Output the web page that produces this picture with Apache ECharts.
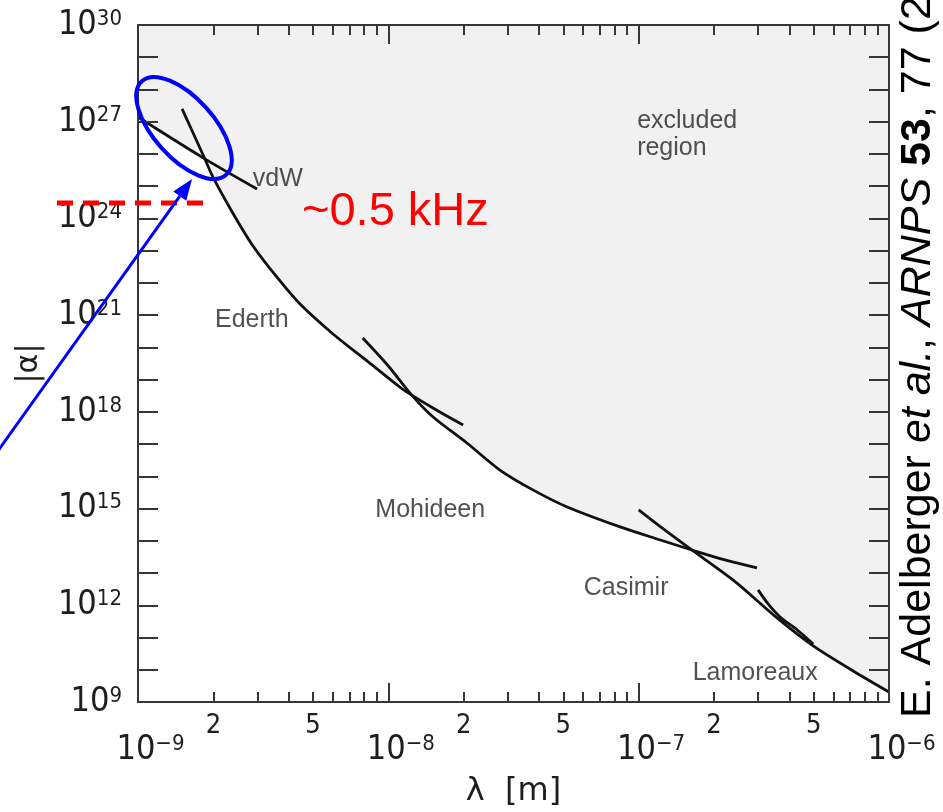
<!DOCTYPE html>
<html>
<head>
<meta charset="utf-8">
<script src="https://cdn.jsdelivr.net/npm/echarts@6/dist/echarts.min.js"></script>
<style>
  html, body { margin: 0; padding: 0; background: #fff; }
  #chart { width: 943px; height: 812px; }
</style>
</head>
<body>
<div id="chart"></div>
<script>
// Limits on the Yukawa strength |alpha| versus range lambda (metres).
// Each constraint curve: wavelengths (m) and |alpha| values.
const vdwLambda = [1.0e-9, 1.80e-9, 2.99e-9];
const vdwAlpha  = [1.4e27, 8.0e25, 8.2e24];

const ederthLambda = [1.50e-9, 1.82e-9, 2.00e-9, 2.40e-9, 2.88e-9, 3.59e-9, 4.44e-9, 6.01e-9, 8.22e-9, 1.11e-8, 1.24e-8, 1.58e-8, 1.99e-8];
const ederthAlpha  = [2.5e27, 9.3e25, 1.8e25, 1.4e24, 1.4e23, 1.5e22, 2.2e21, 2.6e20, 3.8e19, 5.9e18, 3.3e18, 1.06e18, 3.9e17];

const mohideenLambda = [7.9e-9, 1.0e-8, 1.24e-8, 1.51e-8, 2.06e-8, 2.79e-8, 3.78e-8, 5.18e-8, 8.43e-8, 1.22e-7, 1.63e-7, 2.21e-7, 2.97e-7];
const mohideenAlpha  = [1.95e20, 2.65e19, 3.3e18, 6.9e17, 1.08e17, 1.57e16, 3.8e15, 1.12e15, 2.7e14, 1.06e14, 5.2e13, 2.55e13, 1.44e13];

const casimirLambda = [1.0e-7, 1.27e-7, 1.63e-7, 2.38e-7, 3.57e-7, 4.98e-7, 7.19e-7, 1.0e-6];
const casimirAlpha  = [9.1e14, 2.17e14, 5.2e13, 6.1e12, 4.05e11, 5.5e10, 9.2e9, 2.05e9];

const lamoreauxLambda = [3.0e-7, 3.29e-7, 3.67e-7, 4.30e-7, 4.98e-7];
const lamoreauxAlpha  = [3.0e12, 1.1e12, 4.35e11, 1.71e11, 6.3e10];

// In-plot annotations (anchor position in data units)
const noteText   = ['excluded\nregion', 'vdW', 'Ederth', 'Mohideen', 'Casimir', 'Lamoreaux'];
const noteLambda = [9.86e-8, 3.62e-9, 2.85e-9, 1.47e-8, 8.91e-8, 2.92e-7];
const noteAlpha  = [3.9e26, 1.67e25, 7.1e20, 9.1e14, 3.44e12, 7.96e9];

// Axis ranges and tick layout
const lambdaRange = [1e-9, 1e-6];
const alphaRange = [1e9, 1e30];
const xDecadeExponents = [-9, -8, -7, -6];
const xMinorMultipliers = [2, 3, 4, 5, 6, 7, 8, 9];
const xMinorLabelMultipliers = [2, 5];
const yTickExponents = [10, 11, 12, 13, 14, 15, 16, 17, 18, 19, 20, 21, 22, 23, 24, 25, 26, 27, 28, 29];
const yLabelExponents = [9, 12, 15, 18, 21, 24, 27, 30];

const pow10 = e => Number(('1e' + e));
const xDecades = xDecadeExponents.map(pow10);
const xMinorTicks = [];
const xMinorLabels = [];
xDecadeExponents.slice(0, -1).forEach(e => {
  xMinorMultipliers.forEach(m => xMinorTicks.push(Number(m + 'e' + e)));
  xMinorLabelMultipliers.forEach(m => xMinorLabels.push(Number(m + 'e' + e)));
});
const yTicks = yTickExponents.map(pow10);
// The end labels are pulled a hair inside the range so the log round-off of
// the axis extent does not drop them.
const yLabels = yLabelExponents.map((e, i, arr) => {
  const v = pow10(e);
  if (i === 0) return v * (1 + 1e-9);
  if (i === arr.length - 1) return v * (1 - 1e-9);
  return v;
});

const FONT_NUM = '"Liberation Sans Narrow", "DejaVu Sans Condensed", "Liberation Sans", sans-serif';
const FONT_TEXT = '"Liberation Sans", Arial, sans-serif';
const AXIS_COLOR = '#363636';
const axisLine = { show: true, lineStyle: { color: AXIS_COLOR, width: 2 } };
const tickStyle = { color: AXIS_COLOR, width: 2 };
const expOf = v => Math.round(Math.log10(v));

function xAxisDef(position, major, withLabels) {
  const ax = {
    type: 'log', logBase: 10, gridIndex: 0, position: position,
    min: lambdaRange[0], max: lambdaRange[1], z: 10,
    axisLine: major ? axisLine : { show: false },
    axisTick: { show: true, inside: true, length: major ? 19 : 10, lineStyle: tickStyle,
                customValues: major ? xDecades : xMinorTicks },
    splitLine: { show: false }, minorTick: { show: false },
    axisLabel: { show: false }
  };
  if (withLabels && major) {
    ax.axisLabel = {
      show: true, margin: 31, customValues: xDecades,
      formatter: v => '{p| }{b|10}{s|\u2212' + (-expOf(v)) + '}',
      rich: {
        p: { width: 25, fontSize: 10 },
        b: { fontSize: 34, fontFamily: FONT_NUM, color: '#1e1e1e' },
        s: { fontSize: 22, fontFamily: FONT_NUM, color: '#1e1e1e', verticalAlign: 'top' }
      }
    };
    ax.name = '\u03bb  [m]';
    ax.nameLocation = 'middle';
    ax.nameGap = 74;
    ax.nameTextStyle = { fontSize: 32, fontFamily: '"DejaVu Sans", sans-serif', color: '#1e1e1e' };
  } else if (withLabels) {
    ax.axisLabel = {
      show: true, margin: 10, customValues: xMinorLabels,
      formatter: v => String(Math.round(v / pow10(Math.floor(Math.log10(v) + 1e-9)))),
      fontSize: 27, fontFamily: FONT_NUM, color: '#1e1e1e'
    };
  }
  return ax;
}

function yAxisDef(position, withLabels) {
  const ax = {
    type: 'log', logBase: 10, gridIndex: 0, position: position,
    min: alphaRange[0], max: alphaRange[1], z: 10,
    axisLine: axisLine,
    axisTick: { show: true, inside: true, length: 20, lineStyle: tickStyle, customValues: yTicks },
    splitLine: { show: false }, minorTick: { show: false },
    axisLabel: { show: false }
  };
  if (withLabels) {
    ax.axisLabel = {
      show: true, margin: 16, customValues: yLabels,
      formatter: v => '{b|10}{s|' + expOf(v) + '}',
      rich: {
        b: { fontSize: 34, fontFamily: FONT_NUM, color: '#1e1e1e' },
        s: { fontSize: 22, fontFamily: FONT_NUM, color: '#1e1e1e', verticalAlign: 'top' }
      }
    };
    ax.name = '|\u03b1|';
    ax.nameLocation = 'middle';
    ax.nameGap = 94;
    ax.nameTextStyle = { fontSize: 30, fontFamily: '"DejaVu Sans", sans-serif', color: '#1e1e1e' };
  }
  return ax;
}

const curves = [
  ['vdW', vdwLambda, vdwAlpha],
  ['Ederth', ederthLambda, ederthAlpha],
  ['Mohideen', mohideenLambda, mohideenAlpha],
  ['Casimir', casimirLambda, casimirAlpha],
  ['Lamoreaux', lamoreauxLambda, lamoreauxAlpha]
];
const pairs = (xs, ys) => xs.map((x, i) => [x, ys[i]]);

// Shaded excluded region: the union of the areas above every constraint curve
const fillSeries = curves.map(([name, xs, ys]) => ({
  name: name + ' region', type: 'line', data: pairs(xs, ys),
  smooth: 0.3, showSymbol: false, silent: true, z: 1,
  lineStyle: { width: 0, opacity: 0 },
  areaStyle: { color: '#f1f1f1', opacity: 1, origin: 'end' }
}));
const lineSeries = curves.map(([name, xs, ys]) => ({
  name: name, type: 'line', data: pairs(xs, ys),
  smooth: 0.3, showSymbol: false, silent: true, z: 3,
  lineStyle: { color: '#111', width: 2.8 }
}));
const noteSeries = {
  type: 'scatter', silent: true, z: 4, symbolSize: 0,
  data: noteText.map((t, i) => ({
    value: [noteLambda[i], noteAlpha[i]],
    label: t.indexOf('\n') >= 0 ? { align: 'left' } : {}
  })),
  label: {
    show: true, position: 'inside', color: '#262626',
    fontSize: 25, fontFamily: FONT_TEXT, lineHeight: 27,
    formatter: p => noteText[p.dataIndex]
  }
};

const RED = '#ff0000';
const BLUE = '#0000ff';
const tip = [192, 179];
const dir = [0.581, -0.814];
const headLen = 21, headHalf = 8;
const base = [tip[0] - headLen * dir[0], tip[1] - headLen * dir[1]];
const perp = [-dir[1], dir[0]];

const option = {
  backgroundColor: '#fff',
  animation: false,
  grid: { left: 138, top: 25, right: 54, bottom: 110, containLabel: false, outerBoundsMode: 'none' },
  xAxis: [
    xAxisDef('bottom', true, true),
    xAxisDef('bottom', false, true),
    xAxisDef('top', true, false),
    xAxisDef('top', false, false)
  ],
  yAxis: [yAxisDef('left', true), yAxisDef('right', false)],
  series: [...fillSeries, ...lineSeries, noteSeries],
  graphic: [
    { type: 'line', z: 100, shape: { x1: 57, y1: 203, x2: 205, y2: 203 },
      style: { stroke: RED, lineWidth: 5, lineDash: [16, 10] } },
    { type: 'text', z: 100, x: 302, y: 212,
      style: { text: '~0.5 kHz', fill: RED, fontSize: 47, fontFamily: FONT_TEXT, align: 'left', verticalAlign: 'middle' } },
    { type: 'ellipse', z: 100, x: 184, y: 128, rotation: -48 * Math.PI / 180,
      shape: { cx: 0, cy: 0, rx: 63, ry: 30 },
      style: { fill: 'none', stroke: BLUE, lineWidth: 4 } },
    { type: 'line', z: 100, shape: { x1: tip[0] - 345 * dir[0], y1: tip[1] - 345 * dir[1], x2: base[0], y2: base[1] },
      style: { stroke: BLUE, lineWidth: 3 } },
    { type: 'polygon', z: 100,
      shape: { points: [tip, [base[0] + headHalf * perp[0], base[1] + headHalf * perp[1]], [base[0] - headHalf * perp[0], base[1] - headHalf * perp[1]]] },
      style: { fill: BLUE } },
    { type: 'text', z: 100, x: 918, y: 718, rotation: Math.PI / 2,
      style: {
        text: 'E. Adelberger {i|et al.}, {i|ARNPS} {b|53}, 77 (2003)',
        fill: '#000', fontSize: 43, fontFamily: FONT_TEXT, align: 'left', verticalAlign: 'middle',
        rich: {
          i: { fontStyle: 'italic', fontSize: 43, fontFamily: FONT_TEXT, fill: '#000' },
          b: { fontWeight: 'bold', fontSize: 43, fontFamily: FONT_TEXT, fill: '#000' }
        }
      } }
  ]
};

const chart = echarts.init(document.getElementById('chart'), null, { renderer: 'canvas' });
chart.setOption(option);
</script>
</body>
</html>
